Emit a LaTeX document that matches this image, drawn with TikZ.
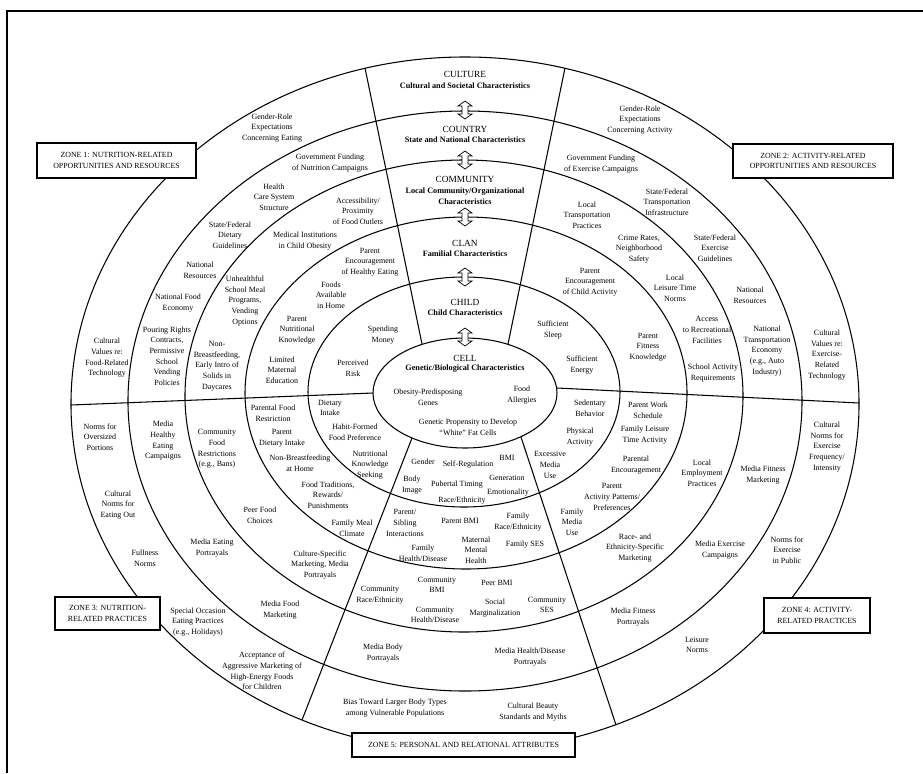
\documentclass[tikz,border=0pt]{standalone}
\usepackage{fontspec}
\setmainfont{Liberation Serif}
\begin{document}
\begin{tikzpicture}[x=0.03cm,y=-0.03cm,
  ring/.style={line width=0.9pt},
  lbl/.style={align=center,inner sep=0pt,font=\fontsize{6.8}{9.1}\selectfont},
  hd/.style={inner sep=0pt,font=\fontsize{8}{9}\selectfont},
  sub/.style={align=center,inner sep=0pt,font=\fontsize{7}{9.2}\selectfont\bfseries},
  zone/.style={draw,line width=1pt,fill=white,align=center,inner sep=0pt,font=\fontsize{6.7}{9}\selectfont},
  dblarrow/.pic={\draw[line width=0.6pt,fill=white] (0,-9)--(7,-4)--(3,-4)--(3,4)--(7,4)--(0,9)--(-7,4)--(-3,4)--(-3,-4)--(-7,-4)--cycle;}
]
\useasboundingbox (0,0) rectangle (923,773);
% frame
\coordinate (fA) at (7,773); \coordinate (fB) at (7,11); \coordinate (fC) at (923,11);
\draw[line width=1pt] (fA)--(fB)--(fC);
% rings
\draw[ring] (465,404) ellipse [x radius=11.82cm, y radius=10.41cm];
\draw[ring] (465,401) ellipse [x radius=10.11cm, y radius=8.7cm];
\draw[ring] (464,396) ellipse [x radius=8.37cm, y radius=7.08cm];
\draw[ring] (466,393) ellipse [x radius=6.63cm, y radius=5.28cm];
\draw[ring] (464,392) ellipse [x radius=4.68cm, y radius=3.45cm];
\draw[ring] (465,393) ellipse [x radius=2.76cm, y radius=1.65cm];
% dividers
\coordinate (tlA) at (365,68);  \coordinate (tlB) at (422,344);
\coordinate (trA) at (565,68);  \coordinate (trB) at (508,344);
\coordinate (blA) at (412,438); \coordinate (blB) at (302,720);
\coordinate (brA) at (521,437); \coordinate (brB) at (616,725);
\coordinate (hlA) at (71,405);  \coordinate (hlB) at (373,393);
\coordinate (hrA) at (557,388); \coordinate (hrB) at (859,403);
\draw[ring] (tlA)--(tlB);
\draw[ring] (trA)--(trB);
\draw[ring] (blA)--(blB);
\draw[ring] (brA)--(brB);
\draw[ring] (hlA)--(hlB);
\draw[ring] (hrA)--(hrB);
% arrows between levels
\pic at (465,110) {dblarrow};
\pic at (465,160) {dblarrow};
\pic at (465,217) {dblarrow};
\pic at (465,277) {dblarrow};
\pic at (465,337) {dblarrow};
% zone boxes
\node[zone,minimum width=4.77cm,minimum height=1.05cm] (z1) at (116.5,160.5) {ZONE 1: NUTRITION-RELATED\\OPPORTUNITIES AND RESOURCES};
\node[zone,minimum width=4.8cm,minimum height=1.02cm] (z2) at (813,161) {ZONE 2: ACTIVITY-RELATED\\OPPORTUNITIES AND RESOURCES};
\node[zone,minimum width=3.15cm,minimum height=0.99cm] (z3) at (107.5,613.5) {ZONE 3: NUTRITION-\\RELATED PRACTICES};
\node[zone,minimum width=3.18cm,minimum height=1.05cm] (z4) at (817,615.5) {ZONE 4: ACTIVITY-\\RELATED PRACTICES};
\node[zone,minimum width=6.69cm,minimum height=0.72cm] (z5) at (463.5,745) {ZONE 5: PERSONAL AND RELATIONAL ATTRIBUTES};
% level headers
\node[hd] (culT) at (465,74) {CULTURE};
\node[sub] (culS) at (465,86) {Cultural and Societal Characteristics};
\node[hd] (couT) at (465,129) {COUNTRY};
\node[sub] (couS) at (465,140) {State and National Characteristics};
\node[hd] (comT) at (465,179) {COMMUNITY};
\node[sub] (comS) at (465,196.5) {Local Community/Organizational\\Characteristics};
\node[hd] (claT) at (465,243) {CLAN};
\node[sub] (claS) at (465,254) {Familial Characteristics};
\node[hd] (chiT) at (465,302) {CHILD};
\node[sub] (chiS) at (465,313) {Child Characteristics};
\node[hd] (celT) at (465,358) {CELL};
\node[sub] (celS) at (465,369) {Genetic/Biological Characteristics};
% cell
\node[lbl] (c1) at (428,397) {Obesity-Predisposing\\Genes};
\node[lbl] (c2) at (522,395) {Food\\Allergies};
\node[lbl] (c3) at (468,427) {Genetic Propensity to Develop\\``White'' Fat Cells};
% zone 1
\node[lbl] (a1) at (272,128) {Gender-Role\\Expectations\\Concerning Eating};
\node[lbl] (a2) at (330,163) {Government Funding\\of Nutrition Campaigns};
\node[lbl] (a3) at (274,197) {Health\\Care System\\Structure};
\node[lbl] (a4) at (230,235) {State/Federal\\Dietary\\Guidelines};
\node[lbl] (a5) at (305,241) {Medical Institutions\\in Child Obesity};
\node[lbl] (a6) at (358,211) {Accessibility/\\Proximity\\of Food Outlets};
\node[lbl] (a7) at (200,270) {National\\Resources};
\node[lbl] (a8) at (245,301) {Unhealthful\\School Meal\\Programs,\\Vending\\Options};
\node[lbl] (a9) at (370,262) {Parent\\Encouragement\\of Healthy Eating};
\node[lbl] (a10) at (331,295) {Foods\\Available\\in Home};
\node[lbl] (a11) at (178,303) {National Food\\Economy};
\node[lbl] (a12) at (297,330) {Parent\\Nutritional\\Knowledge};
\node[lbl] (a13) at (383,335) {Spending\\Money};
\node[lbl] (a14) at (107,358) {Cultural\\Values re:\\Food-Related\\Technology};
\node[lbl] (a15) at (167,356) {Pouring Rights\\Contracts,\\Permissive\\School\\Vending\\Policies};
\node[lbl] (a16) at (217,366) {Non-\\Breastfeeding,\\Early Intro of\\Solids in\\Daycares};
\node[lbl] (a17) at (282,370) {Limited\\Maternal\\Education};
\node[lbl] (a18) at (353,368) {Perceived\\Risk};
% zone 2
\node[lbl] (b1) at (640,120) {Gender-Role\\Expectations\\Concerning Activity};
\node[lbl] (b2) at (601,164) {Government Funding\\of Exercise Campaigns};
\node[lbl] (b3) at (667,202) {State/Federal\\Transportation\\Infrastructure};
\node[lbl] (b4) at (587,215) {Local\\Transportation\\Practices};
\node[lbl] (b5) at (639,249) {Crime Rates,\\Neighborhood\\Safety};
\node[lbl] (b6) at (715,248) {State/Federal\\Exercise\\Guidelines};
\node[lbl] (b7) at (590,282) {Parent\\Encouragement\\of Child Activity};
\node[lbl] (b8) at (675,288) {Local\\Leisure Time\\Norms};
\node[lbl] (b9) at (750,295) {National\\Resources};
\node[lbl] (b10) at (553,330) {Sufficient\\Sleep};
\node[lbl] (b11) at (707,330) {Access\\to Recreational\\Facilities};
\node[lbl] (b12) at (648,347) {Parent\\Fitness\\Knowledge};
\node[lbl] (b13) at (767,351) {National\\Transportation\\Economy\\(e.g., Auto\\Industry)};
\node[lbl] (b14) at (827,355) {Cultural\\Values re:\\Exercise-\\Related\\Technology};
\node[lbl] (b15) at (582,365) {Sufficient\\Energy};
\node[lbl] (b16) at (713,373) {School Activity\\Requirements};
% zone 3
\node[lbl] (d1) at (100,437) {Norms for\\Oversized\\Portions};
\node[lbl] (d2) at (163,441) {Media\\Healthy\\Eating\\Campaigns};
\node[lbl] (d3) at (217,449) {Community\\Food\\Restrictions\\(e.g., Bans)};
\node[lbl] (d4) at (273,413) {Parental Food\\Restriction};
\node[lbl] (d5) at (282,438) {Parent\\Dietary Intake};
\node[lbl] (d6) at (300,463) {Non-Breastfeeding\\at Home};
\node[lbl] (d7) at (330,408) {Dietary\\Intake};
\node[lbl] (d8) at (355,432) {Habit-Formed\\Food Preference};
\node[lbl] (d9) at (370,465) {Nutritional\\Knowledge\\Seeking};
\node[lbl] (d10) at (328,495) {Food Traditions,\\Rewards/\\Punishments};
\node[lbl] (d11) at (260,515) {Peer Food\\Choices};
\node[lbl] (d12) at (352,528) {Family Meal\\Climate};
\node[lbl] (d13) at (118,505) {Cultural\\Norms for\\Eating Out};
\node[lbl] (d14) at (212,548) {Media Eating\\Portrayals};
\node[lbl] (d15) at (320,565) {Culture-Specific\\Marketing, Media\\Portrayals};
\node[lbl] (d16) at (145,558) {Fullness\\Norms};
\node[lbl] (d17) at (280,610) {Media Food\\Marketing};
\node[lbl] (d18) at (198,622) {Special Occasion\\Eating Practices\\(e.g., Holidays)};
\node[lbl] (d19) at (262,671) {Acceptance of\\Aggressive Marketing of\\High-Energy Foods\\for Children};
% zone 4
\node[lbl] (e1) at (590,408) {Sedentary\\Behavior};
\node[lbl] (e2) at (580,437) {Physical\\Activity};
\node[lbl] (e3) at (550,465) {Excessive\\Media\\Use};
\node[lbl] (e4) at (648,410) {Parent Work\\Schedule};
\node[lbl] (e5) at (645,435) {Family Leisure\\Time Activity};
\node[lbl] (e6) at (636,465) {Parental\\Encouragement};
\node[lbl] (e7) at (612,497) {Parent\\Activity Patterns/\\Preferences};
\node[lbl] (e8) at (702,473) {Local\\Employment\\Practices};
\node[lbl] (e9) at (763,475) {Media Fitness\\Marketing};
\node[lbl] (e10) at (827,447) {Cultural\\Norms for\\Exercise\\Frequency/\\Intensity};
\node[lbl] (e11) at (572,522) {Family\\Media\\Use};
\node[lbl] (e12) at (635,548) {Race- and\\Ethnicity-Specific\\Marketing};
\node[lbl] (e13) at (720,550) {Media Exercise\\Campaigns};
\node[lbl] (e14) at (787,550) {Norms for\\Exercise\\in Public};
\node[lbl] (e15) at (633,617) {Media Fitness\\Portrayals};
\node[lbl] (e16) at (697,645) {Leisure\\Norms};
% zone 5
\node[lbl] (g1) at (423,462) {Gender};
\node[lbl] (g2) at (468,465) {Self-Regulation};
\node[lbl] (g3) at (507,458) {BMI};
\node[lbl] (g4) at (412,485) {Body\\Image};
\node[lbl] (g5) at (457,485) {Pubertal Timing};
\node[lbl] (g6) at (507,478) {Generation};
\node[lbl] (g7) at (508,493) {Emotionality};
\node[lbl] (g8) at (462,501) {Race/Ethnicity};
\node[lbl] (g9) at (405,523) {Parent/\\Sibling\\Interactions};
\node[lbl] (g10) at (460,521) {Parent BMI};
\node[lbl] (g11) at (518,522) {Family\\Race/Ethnicity};
\node[lbl] (g12) at (525,545) {Family SES};
\node[lbl] (g13) at (423,553) {Family\\Health/Disease};
\node[lbl] (g14) at (476,550) {Maternal\\Mental\\Health};
\node[lbl] (g15) at (437,585) {Community\\BMI};
\node[lbl] (g16) at (497,583) {Peer BMI};
\node[lbl] (g17) at (380,595) {Community\\Race/Ethnicity};
\node[lbl] (g18) at (495,608) {Social\\Marginalization};
\node[lbl] (g19) at (547,605) {Community\\SES};
\node[lbl] (g20) at (435,615) {Community\\Health/Disease};
\node[lbl] (g21) at (383,653) {Media Body\\Portrayals};
\node[lbl] (g22) at (530,657) {Media Health/Disease\\Portrayals};
\node[lbl] (g23) at (395,708) {Bias Toward Larger Body Types\\among Vulnerable Populations};
\node[lbl] (g24) at (533,712) {Cultural Beauty\\Standards and Myths};
\end{tikzpicture}
\end{document}
